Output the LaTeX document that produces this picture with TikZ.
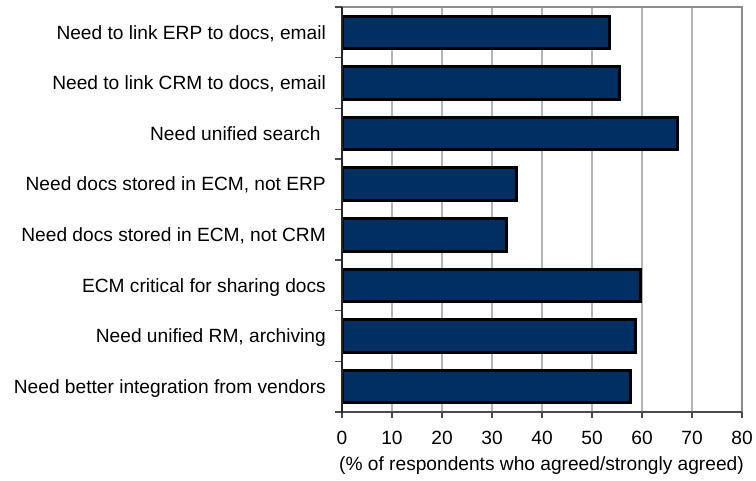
\documentclass[tikz,border=0pt]{standalone}
\usepackage{fontspec}
\setmainfont{Liberation Sans}
\definecolor{barblue}{HTML}{003063}
\definecolor{gridgray}{HTML}{B4B4B4}
\definecolor{framegray}{HTML}{8C8C8C}
\begin{document}
\begin{tikzpicture}[x=1pt,y=-1pt,
  lbl/.style={anchor=base east, inner sep=0pt, font=\fontsize{19.15}{23}\selectfont},
  ticklbl/.style={anchor=base, inner sep=0pt, font=\fontsize{19.15}{23}\selectfont},
  bar/.style={fill=barblue, draw=black, line width=3pt},
  grid line/.style={draw=gridgray, line width=1.3pt},
  frame line/.style={draw=framegray, line width=2pt}]
\useasboundingbox (0,0) rectangle (756,481);
% gridlines
\foreach \k in {1,...,7} {
  \draw[grid line] (342+50*\k,7) -- (342+50*\k,412);
}
% frame
\draw[frame line] (342,7) -- (742,7) -- (742,412);
\draw[draw=black!70, line width=2pt] (342,412) -- (742,412);
% x ticks and labels
\foreach \k in {0,...,8} {
  \draw[draw=black!70, line width=1.3pt] (342+50*\k,412) -- (342+50*\k,418);
  \pgfmathtruncatemacro{\v}{10*\k}
  \node[ticklbl] (xt\k) at (342+50*\k,445) {\v};
}
% y ticks
\foreach \k in {0,...,8} {
  \draw[draw=black!70, line width=1.3pt] (335,7+50.625*\k) -- (342,7+50.625*\k);
}
% bars
\foreach \i/\e in {1/609.5,2/619.5,3/677.2,4/516.5,5/506.2,6/640.8,7/635.5,8/630.5} {
  \pgfmathsetmacro{\yc}{7+(\i-0.5)*50.625}
  \draw[bar] (342,\yc-16.3) rectangle (\e,\yc+16.3);
}
% left axis
\draw[draw=black!85, line width=2pt] (342,7) -- (342,413);
% category labels
\node[lbl] (c1) at (326,32.3+6.8) {Need to link ERP to docs, email};
\node[lbl] (c2) at (326,82.9+6.8) {Need to link CRM to docs, email};
\node[lbl] (c3) at (326,133.6+6.8) {Need unified search\hspace*{0.278em}};
\node[lbl] (c4) at (326,184.2+6.8) {Need docs stored in ECM, not ERP};
\node[lbl] (c5) at (326,234.8+6.8) {Need docs stored in ECM, not CRM};
\node[lbl] (c6) at (326,285.4+6.8) {ECM critical for sharing docs};
\node[lbl] (c7) at (326,336.1+6.8) {Need unified RM, archiving};
\node[lbl] (c8) at (326,386.7+6.8) {Need better integration from vendors};
% axis title
\node[ticklbl] (xtitle) at (541.5,470) {(\% of respondents who agreed/strongly agreed)};
\end{tikzpicture}
\end{document}
